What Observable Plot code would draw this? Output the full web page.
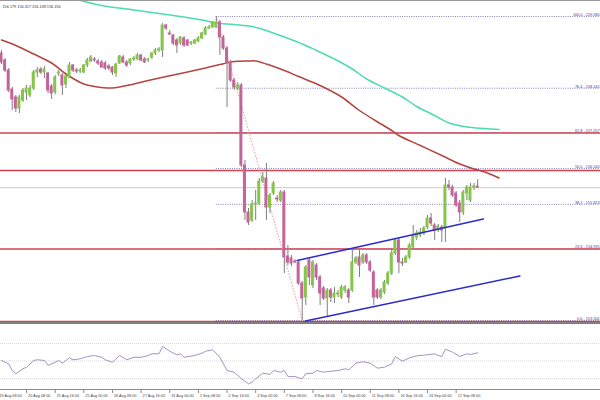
<!DOCTYPE html>
<html><head><meta charset="utf-8">
<script src="https://cdn.jsdelivr.net/npm/d3@7"></script>
<script src="https://cdn.jsdelivr.net/npm/@observablehq/plot@0.6"></script>
<style>
html,body{margin:0;padding:0;background:#fff;}
#wrap{position:relative;width:600px;height:400px;overflow:hidden;background:#fff;font-family:"Liberation Sans",Arial,sans-serif;}
#main{position:absolute;left:0;top:0;}
#rsi{position:absolute;left:0;top:325px;}
.hl{position:absolute;left:0;width:600px;}
</style></head><body>
<div id="wrap">
  <div id="main"></div>
  <div id="rsi"></div>
  <div class="hl" style="top:0;height:1px;background:#9a9a9a"></div>
  <div class="hl" style="top:322px;height:2px;background:#808080"></div>
</div>
<script>
// ---- H4 candles (open / high / low / close) ----
const opens = [158.84,158.70,158.50,158.12,157.96,157.74,157.90,158.06,158.00,158.14,
158.46,158.52,158.46,158.44,158.18,158.06,158.44,158.40,158.22,158.36,
158.60,158.50,158.48,158.46,158.60,158.68,158.72,158.68,158.66,158.64,
158.58,158.56,158.44,158.64,158.76,158.66,158.64,158.72,158.72,158.80,
158.72,158.70,158.76,158.84,158.90,158.90,159.40,159.24,159.20,159.10,
159.04,159.14,159.10,159.04,159.04,159.08,159.14,159.22,159.34,159.36,
159.36,159.46,159.16,158.94,158.66,158.30,158.14,158.20,156.60,155.66,
155.50,155.82,155.84,156.28,156.34,155.76,156.04,155.94,155.90,156.06,
154.78,154.74,154.68,154.66,154.24,153.96,154.70,154.20,154.60,154.36,
154.14,153.94,154.10,153.96,154.02,153.96,154.10,154.10,154.10,154.66,
154.76,154.66,154.80,154.66,154.46,154.10,153.96,154.06,154.24,154.44,
154.84,155.10,154.66,154.66,154.76,154.96,155.16,155.20,155.24,155.36,
155.54,155.40,155.30,155.36,155.34,156.20,156.16,156.04,155.84,155.66,
156.04,155.90,156.16,156.179];
const highs = [158.90,158.74,158.54,158.16,158.00,158.00,158.14,158.20,158.20,158.50,
158.56,158.56,158.58,158.46,158.22,158.40,158.50,158.44,158.42,158.66,
158.62,158.54,158.54,158.62,158.74,158.80,158.76,158.72,158.70,158.68,
158.62,158.58,158.64,158.80,158.80,158.70,158.74,158.78,158.84,158.82,
158.76,158.74,158.86,158.94,158.96,159.44,159.42,159.30,159.22,159.14,
159.18,159.18,159.12,159.08,159.12,159.18,159.26,159.38,159.40,159.48,
159.58,159.50,159.20,158.98,158.70,158.34,158.26,158.24,156.70,155.74,
155.90,156.10,156.34,156.46,156.64,156.04,156.28,156.00,156.10,156.10,
155.00,154.80,154.72,154.70,154.28,154.60,154.74,154.70,154.64,154.40,
154.18,154.14,154.14,154.16,154.10,154.20,154.20,154.14,154.90,154.78,
154.90,154.84,154.84,154.70,154.50,154.14,154.14,154.30,154.48,154.94,
155.14,155.14,154.74,154.80,155.04,155.40,155.30,155.34,155.38,155.60,
155.64,155.44,155.42,155.40,156.34,156.30,156.20,156.08,155.90,156.10,
156.20,156.24,156.24,156.317];
const lows = [158.62,158.46,158.06,157.70,157.66,157.64,157.86,157.90,157.96,158.10,
158.36,158.42,158.34,158.04,157.92,158.02,158.38,158.00,158.14,158.34,
158.46,158.44,158.44,158.44,158.56,158.66,158.66,158.60,158.54,158.50,
158.50,158.40,158.36,158.62,158.64,158.56,158.60,158.68,158.70,158.68,
158.64,158.66,158.72,158.80,158.86,158.76,159.30,159.20,159.00,158.84,
159.00,158.96,158.98,159.00,159.02,159.06,159.12,159.20,159.32,159.34,
159.34,158.80,158.90,157.76,158.26,158.10,158.10,156.56,155.50,155.40,
155.46,155.50,155.80,156.24,155.50,155.64,156.00,155.86,155.86,154.44,
154.60,154.58,154.64,154.20,153.50,153.80,154.20,154.14,154.30,153.80,
153.90,153.56,153.86,153.84,153.96,153.92,154.04,153.84,154.06,154.62,
154.36,154.62,154.62,154.46,153.80,153.92,153.92,154.02,154.20,154.40,
154.80,154.44,154.58,154.64,154.72,154.94,155.10,155.16,155.20,155.32,
155.38,155.10,155.26,155.06,155.06,156.10,155.96,155.76,155.46,155.60,
155.90,155.86,156.10,156.138];
const closes = [158.66,158.50,158.10,157.92,157.74,157.96,158.10,158.14,158.14,158.46,
158.50,158.46,158.52,158.10,158.04,158.36,158.46,158.20,158.38,158.60,
158.50,158.48,158.50,158.60,158.70,158.76,158.70,158.64,158.56,158.54,
158.54,158.46,158.62,158.78,158.66,158.60,158.72,158.74,158.80,158.70,
158.66,158.72,158.84,158.90,158.92,159.40,159.34,159.22,159.04,159.00,
159.16,159.00,159.00,159.06,159.10,159.14,159.24,159.34,159.36,159.46,
159.46,159.16,158.94,158.66,158.30,158.16,158.20,156.60,155.66,155.46,
155.82,155.84,156.28,156.36,155.76,156.00,156.24,155.92,156.06,154.76,
154.66,154.64,154.66,154.24,153.94,154.56,154.36,154.66,154.36,154.04,
153.94,154.10,153.96,154.04,154.04,154.16,154.16,153.96,154.66,154.74,
154.60,154.80,154.66,154.50,153.96,153.96,154.10,154.26,154.44,154.84,
155.10,154.66,154.64,154.76,155.00,155.20,155.24,155.26,155.34,155.54,
155.44,155.30,155.38,155.30,156.20,156.16,156.00,155.80,155.66,156.06,
156.16,156.16,156.18,156.156];

// ---- moving averages (bar index, value) ----
const redMaIdx = [0,4,9,14,18,23,26,31,35,41,46,52,57,61,65,69,71,74,79,83,89,95,100,106,109,111,117,123,128,132,135,139];
const redMaVal = [159.11,159.00,158.83,158.65,158.43,158.23,158.18,158.15,158.20,158.30,158.38,158.47,158.55,158.62,158.68,158.69,158.69,158.63,158.50,158.38,158.20,157.97,157.70,157.43,157.30,157.20,157.00,156.80,156.63,156.53,156.47,156.35];
const greenMaIdx = [21,28,37,46,56,60,65,70,74,79,84,88,93,98,102,107,112,116,121,125,130,135,139];
const greenMaVal = [159.92,159.80,159.71,159.62,159.51,159.45,159.42,159.38,159.30,159.17,159.03,158.90,158.73,158.53,158.33,158.15,157.97,157.78,157.60,157.45,157.37,157.34,157.32];

// ---- channel lines ----
const channelUpperIdx = [82.6, 134.6];
const channelUpperVal = [154.70, 155.53];
const channelLowerIdx = [84.9, 144.8];
const channelLowerVal = [153.49, 154.39];

// ---- horizontal levels ----
const redLevels = [157.25, 156.50, 154.93, 153.48];
const fibRatios = [0, 23.6, 38.2, 50, 61.8, 76.4, 100];
const fibHighIdx = 60;
const fibLowIdx = 84;

// ---- RSI (bar index, value) ----
const rsiIdx = [0,2,3,4,6,7,9,10,12,13,15,16,17,19,20,22,24,26,28,29,31,33,35,37,39,41,42,44,45,47,49,50,51,54,56,57,59,61,63,65,67,69,70,71,73,75,76,78,79,80,82,83,84,85,87,88,90,92,94,96,97,99,101,103,105,107,109,110,112,114,116,119,121,122,123,124,126,128,130,131,133];
const rsiVal = [50.6,46.8,39.1,35.4,41.1,42.9,50.6,51.4,50.6,44.9,48.6,50.6,47.5,53.7,51.4,52.5,55.1,56.3,54.3,51.4,48.6,56.3,51.4,54.3,54.3,56.3,58.2,58.2,66.6,61.2,57.1,58.2,54.3,56.3,58.9,61.2,62.8,54.3,39.1,37.2,29.7,23.9,25.8,29.7,36.1,34.6,39.1,37.2,39.1,32.3,32.3,30.8,29.7,35.4,36.1,39.1,37.2,38.3,39.1,41.1,39.9,47.5,49.1,47.5,41.8,42.9,46.8,55.1,49.8,53.7,55.9,57.1,58.2,56.3,55.1,63.5,60.1,55.1,58.2,57.4,59.4];
const rsiLevels = [70, 50, 30];

// ---- time axis ----
const xTickIdx = [-1,7,15,23,31,39,47,55,63,71,79,87,95,103,111,119,127];
const xTickLabels = ["19 Aug 08:00","20 Aug 08:00","21 Aug 16:00","25 Aug 00:00","26 Aug 08:00","27 Aug 16:00","31 Aug 00:00","1 Sep 08:00","2 Sep 16:00","4 Sep 00:00","7 Sep 08:00","8 Sep 16:00","10 Sep 00:00","11 Sep 08:00","14 Sep 16:00","16 Sep 00:00","17 Sep 08:00"];

// ---------------------------------------------------------------
const FONT = "Liberation Sans, Arial, sans-serif";
const xDomain = [-0.28, 167.32];
const yDomain = [153.44, 159.9];
const rsiDomain = [17.4, 90.6];

const candles = opens.map((o, i) => ({i, o, h: highs[i], l: lows[i], c: closes[i]}));
const up = candles.filter(d => d.c >= d.o);
const down = candles.filter(d => d.c < d.o);
const last = candles[candles.length - 1];
const fibHigh = highs[fibHighIdx], fibLow = lows[fibLowIdx];
const fibs = fibRatios.map(r => ({r, p: fibLow + (fibHigh - fibLow) * r / 100}));
const redMa = redMaIdx.map((i, k) => ({i, v: redMaVal[k]}));
const greenMa = greenMaIdx.map((i, k) => ({i, v: greenMaVal[k]}));
const chUp = channelUpperIdx.map((i, k) => ({i, v: channelUpperVal[k]}));
const chLo = channelLowerIdx.map((i, k) => ({i, v: channelLowerVal[k]}));
const rsiPts = rsiIdx.map((i, k) => ({i, v: rsiVal[k]}));
const header = [last.o, last.h, last.l, last.c].map(v => v.toFixed(3)).join(" ");

const main = Plot.plot({
  width: 600, height: 323,
  marginTop: 0, marginRight: 0, marginBottom: 0, marginLeft: 0,
  style: {background: "transparent", fontFamily: FONT},
  x: {domain: xDomain, axis: null},
  y: {domain: yDomain, axis: null},
  marks: [
    Plot.ruleY([last.c], {stroke: "#cccccc", strokeWidth: 1}),
    Plot.ruleY(fibs, {y: "p", x1: () => fibHighIdx, x2: () => xDomain[1], stroke: "#8484c6", strokeWidth: 1, strokeDasharray: "1,1.3"}),
    Plot.ruleY(redLevels, {stroke: "#d1434e", strokeWidth: 1.5}),
    Plot.link([0], {x1: () => fibHighIdx, y1: () => fibHigh, x2: () => fibLowIdx, y2: () => fibLow, stroke: "#e39a9a", strokeWidth: 1, strokeDasharray: "1.5,1.5"}),
    Plot.line(greenMa, {x: "i", y: "v", stroke: "#4ddbb0", strokeWidth: 1.5, curve: "catmull-rom"}),
    Plot.line(redMa, {x: "i", y: "v", stroke: "#b3443e", strokeWidth: 1.5, curve: "catmull-rom"}),
    Plot.ruleX(candles, {x: "i", y1: "l", y2: "h", stroke: "#7f7f7f", strokeWidth: 1}),
    Plot.rect(up, {x1: d => d.i - 0.42, x2: d => d.i + 0.42, y1: "o", y2: "c", fill: "#84c54a", insetTop: -0.5, insetBottom: -0.5}),
    Plot.rect(down, {x1: d => d.i - 0.42, x2: d => d.i + 0.42, y1: "o", y2: "c", fill: "#c4659a", insetTop: -0.5, insetBottom: -0.5}),
    Plot.line(chUp, {x: "i", y: "v", stroke: "#2b2bcc", strokeWidth: 1.5}),
    Plot.line(chLo, {x: "i", y: "v", stroke: "#2b2bcc", strokeWidth: 1.5}),
    Plot.text(fibs, {frameAnchor: "right", y: "p", text: d => `${d.r.toFixed(1)} - ${d.p.toFixed(3)}`, textAnchor: "end", lineAnchor: "bottom", dx: -1, dy: -0.5, fontSize: 3.8, fill: "#3a3aa6"}),
    Plot.text([header], {frameAnchor: "top-left", dx: 2, dy: 6, textAnchor: "start", lineAnchor: "middle", fontSize: 3.8, fill: "#333333"})
  ]
});
document.getElementById("main").appendChild(main);

const rsi = Plot.plot({
  width: 600, height: 75,
  marginTop: 0, marginRight: 0, marginBottom: 11, marginLeft: 0,
  style: {background: "transparent", fontFamily: FONT},
  x: {domain: xDomain, axis: null},
  y: {domain: rsiDomain, axis: null},
  marks: [
    Plot.ruleY(rsiLevels, {stroke: "#d6d6d6", strokeWidth: 1, strokeDasharray: "1,1"}),
    Plot.line(rsiPts, {x: "i", y: "v", stroke: "#a592c4", strokeWidth: 1}),
    Plot.ruleY([rsiDomain[0]], {stroke: "#8c8c8c", strokeWidth: 1}),
    Plot.ruleX(xTickIdx, {x: d => d, stroke: "#8c8c8c", insetTop: 64, insetBottom: -4}),
    Plot.text(xTickIdx, {x: d => d, text: (d, k) => xTickLabels[k], frameAnchor: "bottom", textAnchor: "start", lineAnchor: "middle", dx: 1.5, dy: 6, fontSize: 3.8, fill: "#444444"})
  ]
});
document.getElementById("rsi").appendChild(rsi);
</script>
</body></html>
